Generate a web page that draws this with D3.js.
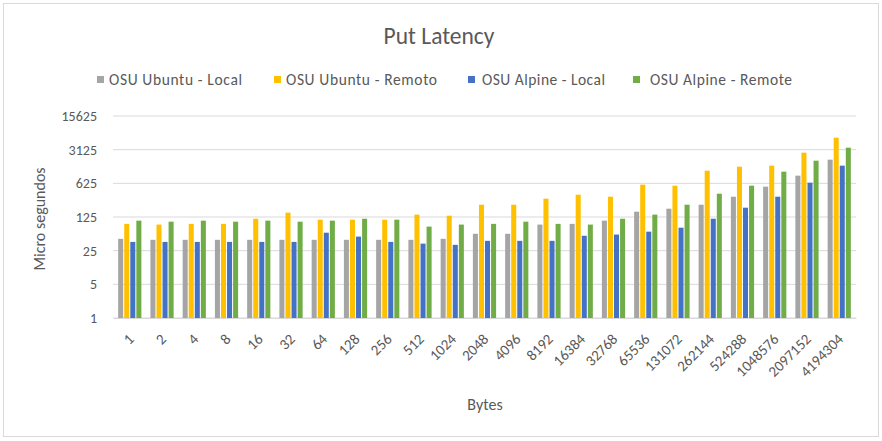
<!DOCTYPE html>
<html><head><meta charset="utf-8">
<script src="https://cdn.jsdelivr.net/npm/d3@7"></script>
<style>body{margin:0;background:#fff;}svg text{font-family:Carlito,Calibri,Lato,sans-serif;fill:#595959;}</style>
</head><body><svg id="c" width="882" height="441"></svg>
<script>
const categories = ["1","2","4","8","16","32","64","128","256","512","1024","2048","4096","8192","16384","32768","65536","131072","262144","524288","1048576","2097152","4194304"];
const seriesNames = ["OSU Ubuntu - Local","OSU Ubuntu - Remoto","OSU Alpine - Local","OSU Alpine - Remote"];
const ubuntuLocal  = [44,42,42,42,42,42,42,42,42,42,44,56,56,87,90,105,161,186,225,330,533,902,1937];
const ubuntuRemoto = [90,87,90,90,115,154,110,110,110,140,133,225,225,300,363,330,586,559,1144,1386,1455,2709,5541];
const alpineLocal  = [38,38,38,38,38,38,59,49,38,35,33,40,40,40,51,54,62,75,115,195,330,645,1455];
const alpineRemote = [105,100,105,100,105,100,105,115,110,79,87,90,100,90,87,115,140,225,381,559,1092,1846,3437];
const yTicks = [1,5,25,125,625,3125,15625];
const colors = ["#A5A5A5","#FFC000","#4472C4","#70AD47"];
const seriesValues = [ubuntuLocal, ubuntuRemoto, alpineLocal, alpineRemote];

const svg = d3.select("#c");
svg.append("rect").attr("x",3.5).attr("y",3.5).attr("width",875).attr("height",433)
  .attr("fill","#fff").attr("stroke","#D9D9D9");

const pL=113, pR=856, pT=116, pB=318;
const x = d3.scaleBand().domain(categories).range([pL,pR]).paddingInner(0.28).paddingOuter(0.16);
const xs = d3.scaleBand().domain(d3.range(4)).range([0,x.bandwidth()]).paddingInner(0.17);
const y = d3.scaleLog().base(5).domain([1,15625]).range([pB,pT]);

// grid
svg.append("g").selectAll("line").data(yTicks).join("line")
  .attr("x1",pL).attr("x2",pR).attr("y1",d=>y(d)).attr("y2",d=>y(d))
  .attr("stroke","#D9D9D9").attr("stroke-width",1);

// y axis labels
const yAxis = d3.axisLeft(y).tickValues(yTicks).tickFormat(d3.format("d")).tickSize(0).tickPadding(16);
const ya = svg.append("g").attr("transform",`translate(${pL},0)`).call(yAxis);
ya.select(".domain").remove();
ya.selectAll("text").attr("font-size",14).style("fill","#595959");

// bars
const groups = svg.append("g").selectAll("g").data(categories).join("g")
  .attr("transform",d=>`translate(${x(d)},0)`);
groups.selectAll("rect").data((d,i)=>seriesValues.map((s,k)=>({k,v:s[i]}))).join("rect")
  .attr("x",d=>xs(d.k)).attr("width",xs.bandwidth())
  .attr("y",d=>y(d.v)).attr("height",d=>pB-y(d.v))
  .attr("fill",d=>colors[d.k]);

// x axis
const xAxis = d3.axisBottom(x).tickSize(0).tickPadding(0);
const xa = svg.append("g").attr("transform",`translate(0,${pB})`).call(xAxis);
xa.select(".domain").attr("stroke","#D9D9D9");
xa.selectAll("text").attr("font-size",15).style("fill","#595959")
  .attr("text-anchor","end").attr("y",0).attr("dy",0)
  .attr("transform","translate(5,22) rotate(-45)");

// title
svg.append("text").attr("x",439).attr("y",44).attr("text-anchor","middle").attr("font-size",23.5).text("Put Latency");
// axis titles
svg.append("text").attr("x",485).attr("y",410).attr("text-anchor","middle").attr("font-size",16).text("Bytes");
svg.append("text").attr("transform","translate(45,219) rotate(-90)").attr("text-anchor","middle").attr("font-size",16).text("Micro segundos");

// legend
const legSq = [97,274,468,633];
const legTx = [109,286,482,650];
const legW = [133,151,123,142];
const leg = svg.append("g").selectAll("g").data(seriesNames).join("g");
leg.append("rect").attr("x",(d,i)=>legSq[i]).attr("y",76).attr("width",7).attr("height",7).attr("fill",(d,i)=>colors[i]);
leg.append("text").attr("x",(d,i)=>legTx[i]).attr("y",85).attr("font-size",15.5)
  .attr("textLength",(d,i)=>legW[i]).attr("lengthAdjust","spacing").text(d=>d);
</script></body></html>
